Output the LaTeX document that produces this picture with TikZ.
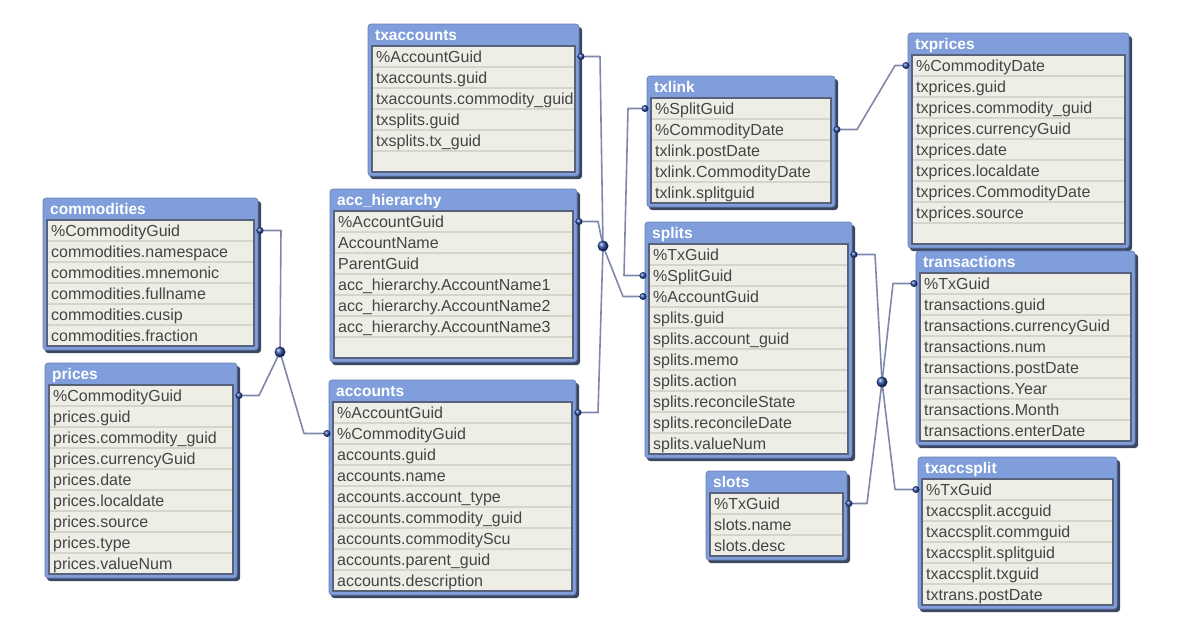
\documentclass[tikz,border=0pt]{standalone}
\usepackage{fontspec}
\setmainfont{Liberation Sans}
\usetikzlibrary{calc}

\definecolor{tblue}{HTML}{7F9EDB}
\definecolor{tnavy}{HTML}{3B4663}
\definecolor{tbeige}{HTML}{EFEEE6}
\definecolor{tline}{HTML}{D6D5CC}
\definecolor{tgray}{HTML}{444444}
\definecolor{linkc}{HTML}{7F88AB}
\definecolor{ballc}{HTML}{2A4A9E}

\tikzset{
  tshadow/.style={fill=tnavy, rounded corners=3pt},
  tframe/.style={fill=tblue, draw=tblue!80!black, line width=0.6pt, rounded corners=3pt},
  ttitle/.style={anchor=base west, inner sep=0pt, text=white, font=\fontsize{15.5}{18}\selectfont\bfseries},
  tbody/.style={fill=tbeige},
  tborder/.style={draw=tnavy!85, line width=1.2pt},
  tsep/.style={draw=tline, line width=1.4pt},
  tfield/.style={anchor=base west, inner sep=0pt, text=tgray, font=\fontsize{16}{18}\selectfont},
  link/.style={draw=linkc, line width=1.6pt, line join=round},
  port/.style={ball color=ballc},
}

% #1 name, #2 left, #3 top, #4 width, #5 rows in body, #6 title, #7 fields
\newcommand{\dbtable}[7]{%
  \pgfmathsetmacro{\tbot}{#3+22+21*#5}
  \fill[tshadow] (#2+2,#3+3) rectangle (#2+#4+3,\tbot+7);
  \filldraw[tframe] (#2,#3) rectangle (#2+#4,\tbot+4);
  \node[ttitle] (#1) at (#2+7,#3+16.5) {#6};
  \fill[tbody] (#2+4,#3+22) rectangle (#2+#4-4,\tbot);
  \foreach \f [count=\i] in {#7} {
    \draw[tsep] (#2+5,#3+22+21*\i) -- (#2+#4-5,#3+22+21*\i);
    \node[tfield] (#1-\i) at (#2+8,#3+17.5+21*\i) {\f};
    \coordinate (#1-\i-w) at (#2-2,#3+11.5+21*\i);
    \coordinate (#1-\i-e) at (#2+#4+2,#3+11.5+21*\i);
  }
  \draw[tborder] (#2+4,#3+22) rectangle (#2+#4-4,\tbot);
}

\begin{document}
\begin{tikzpicture}[x=1pt, y=-1pt]
\useasboundingbox (0,0) rectangle (1177,632);

\dbtable{txaccounts}{368}{24}{211}{6}{txaccounts}{\%AccountGuid, txaccounts.guid, txaccounts.commodity\_guid, txsplits.guid, txsplits.tx\_guid}
\dbtable{acchier}{330}{189}{247}{7}{acc\_hierarchy}{\%AccountGuid, AccountName, ParentGuid, acc\_hierarchy.AccountName1, acc\_hierarchy.AccountName2, acc\_hierarchy.AccountName3}
\dbtable{commodities}{43}{198}{215}{6}{commodities}{\%CommodityGuid, commodities.namespace, commodities.mnemonic, commodities.fullname, commodities.cusip, commodities.fraction}
\dbtable{prices}{45}{363}{192}{9}{prices}{\%CommodityGuid, prices.guid, prices.commodity\_guid, prices.currencyGuid, prices.date, prices.localdate, prices.source, prices.type, prices.valueNum}
\dbtable{accounts}{329}{380}{247}{9}{accounts}{\%AccountGuid, \%CommodityGuid, accounts.guid, accounts.name, accounts.account\_type, accounts.commodity\_guid, accounts.commodityScu, accounts.parent\_guid, accounts.description}
\dbtable{txlink}{647}{76}{188}{5}{txlink}{\%SplitGuid, \%CommodityDate, txlink.postDate, txlink.CommodityDate, txlink.splitguid}
\dbtable{splits}{645}{222}{207}{10}{splits}{\%TxGuid, \%SplitGuid, \%AccountGuid, splits.guid, splits.account\_guid, splits.memo, splits.action, splits.reconcileState, splits.reconcileDate, splits.valueNum}
\dbtable{txprices}{908}{33}{221}{9}{txprices}{\%CommodityDate, txprices.guid, txprices.commodity\_guid, txprices.currencyGuid, txprices.date, txprices.localdate, txprices.CommodityDate, txprices.source}
\dbtable{transactions}{916}{251}{219}{8}{transactions}{\%TxGuid, transactions.guid, transactions.currencyGuid, transactions.num, transactions.postDate, transactions.Year, transactions.Month, transactions.enterDate}
\dbtable{slots}{706}{471}{141}{3}{slots}{\%TxGuid, slots.name, slots.desc}
\dbtable{txaccsplit}{918}{457}{199}{6}{txaccsplit}{\%TxGuid, txaccsplit.accguid, txaccsplit.commguid, txaccsplit.splitguid, txaccsplit.txguid, txtrans.postDate}

% junctions
\coordinate (jacc) at (603,246);
\coordinate (jcom) at (280,352);
\coordinate (jtx) at (882,382);

% AccountGuid
\draw[link] (txaccounts-1-e) -- ++(19,0) -- (jacc);
\draw[link] (acchier-1-e) -- ++(19,0) -- (jacc);
\draw[link] (jacc) -- ([xshift=-20pt]splits-3-w) -- (splits-3-w);
\draw[link] (jacc) -- ([xshift=20pt]accounts-1-e) -- (accounts-1-e);
% SplitGuid, CommodityDate
\draw[link] (txlink-1-w) -- ++(-17,0) -- ([xshift=-19pt]splits-2-w) -- (splits-2-w);
\draw[link] (txlink-2-e) -- ++(20,0) -- ([xshift=-11pt]txprices-1-w) -- (txprices-1-w);
% CommodityGuid
\draw[link] (commodities-1-e) -- ++(21,0) -- (jcom);
\draw[link] (jcom) -- ([xshift=20pt]prices-1-e) -- (prices-1-e);
\draw[link] (jcom) -- ([xshift=-23pt]accounts-2-w) -- (accounts-2-w);
% TxGuid
\draw[link] (splits-1-e) -- ++(21,0) -- (jtx);
\draw[link] (transactions-1-w) -- ++(-21,0) -- (jtx);
\draw[link] (jtx) -- ([xshift=-21pt]txaccsplit-1-w) -- (txaccsplit-1-w);
\draw[link] (jtx) -- ([xshift=18pt]slots-1-e) -- (slots-1-e);

% end points
\foreach \p in {txaccounts-1-e, acchier-1-e, splits-3-w, accounts-1-e, txlink-1-w, splits-2-w, txlink-2-e, txprices-1-w, commodities-1-e, prices-1-e, accounts-2-w, splits-1-e, transactions-1-w, txaccsplit-1-w, slots-1-e}
  \shade[port] (\p) circle[radius=3.5pt];
\foreach \p in {jacc, jcom, jtx}
  \shade[port] (\p) circle[radius=5.5pt];
\end{tikzpicture}
\end{document}
